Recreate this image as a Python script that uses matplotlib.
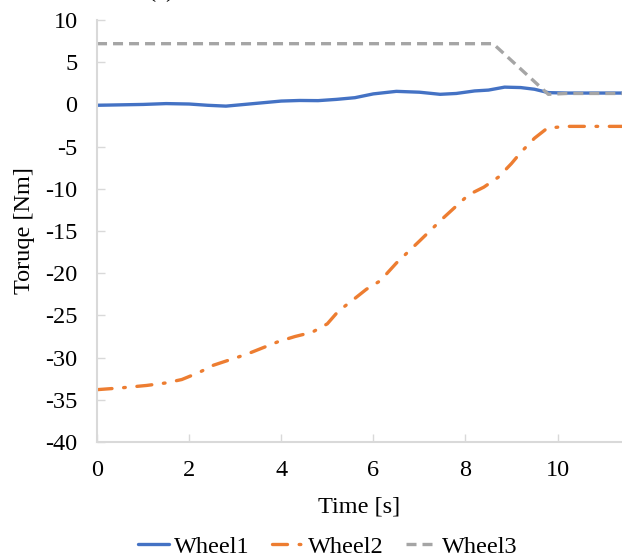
import numpy as np
import matplotlib.pyplot as plt

plt.rcParams['font.family'] = ['Liberation Serif', 'DejaVu Serif']
plt.rcParams['axes.unicode_minus'] = False

# Wheel1 torque
t1 = [0, 0.5, 1.0, 1.5, 2.0, 2.4, 2.8, 3.2, 3.6, 4.0, 4.4, 4.8, 5.2, 5.6, 6.0, 6.5, 7.0, 7.45, 7.8, 8.2, 8.5, 8.85, 9.2, 9.5, 9.8, 10.2, 11.5]
w1 = [-0.1, -0.05, 0.0, 0.1, 0.05, -0.1, -0.2, 0.0, 0.2, 0.4, 0.47, 0.45, 0.6, 0.8, 1.25, 1.55, 1.45, 1.2, 1.3, 1.6, 1.7, 2.05, 2.0, 1.8, 1.4, 1.35, 1.35]

# Wheel2 torque
t2 = [0, 0.5, 1.08, 1.5, 1.84, 2.2, 2.53, 3.25, 3.94, 4.3, 4.67, 5.0, 5.24, 5.55, 5.85, 6.15, 6.5, 7.0, 7.51, 8.07, 8.4, 8.72, 9.0, 9.2, 9.5, 9.78, 10.2, 11.5]
w2 = [-33.8, -33.6, -33.3, -33.0, -32.6, -31.8, -30.9, -29.6, -28.1, -27.5, -27.0, -26.0, -24.5, -23.2, -21.9, -20.9, -18.8, -16.2, -13.5, -10.7, -9.8, -8.6, -7.0, -5.7, -4.0, -2.8, -2.6, -2.6]

# Wheel3 torque
t3 = [0, 8.6, 9.8, 10.2, 11.5]
w3 = [7.2, 7.2, 1.2, 1.3, 1.3]

xticks = [0, 2, 4, 6, 8, 10]
yticks = [10, 5, 0, -5, -10, -15, -20, -25, -30, -35, -40]

fig = plt.figure(figsize=(6.22, 5.57), dpi=100)
ax = fig.add_axes([0.156, 0.2065, 0.844, 0.7575])

ax.plot(t1, w1, color='#4472C4', lw=2.4, label='Wheel1', solid_capstyle='round')
ax.plot(t2, w2, color='#ED7D31', lw=2.4, linestyle=(0, (4.5, 3.5, 0.5, 3.5)),
        dash_capstyle='round', label='Wheel2')
ax.plot(t3, w3, color='#A5A5A5', lw=2.4, linestyle=(0, (3.0, 1.8)), label='Wheel3')

ax.set_xlim(0, 11.4)
ax.set_ylim(-40, 10)
ax.set_xticks(xticks)
ax.set_yticks(yticks)

for s in ['top', 'right']:
    ax.spines[s].set_visible(False)
for s in ['left', 'bottom']:
    ax.spines[s].set_color('#D9D9D9')
    ax.spines[s].set_linewidth(1.5)
ax.tick_params(direction='in', length=6, width=1, color='#D9D9D9', labelsize=17.5)
ax.tick_params(axis='y', pad=14)
ax.tick_params(axis='x', pad=13)

ax.set_xlabel('Time [s]', fontsize=17.5, labelpad=11)
ax.set_ylabel('Toruqe [Nm]', fontsize=17.5, labelpad=7)

fig.legend(loc='center', bbox_to_anchor=(0.527, 0.018), ncol=3, frameon=False,
           fontsize=17.5, handlelength=1.3, handletextpad=0.2, columnspacing=0.9)

fig.text(0.26, 1.006, '(a)', fontsize=17.5, ha='center', va='baseline')

fig.savefig('out.png', dpi=100)
